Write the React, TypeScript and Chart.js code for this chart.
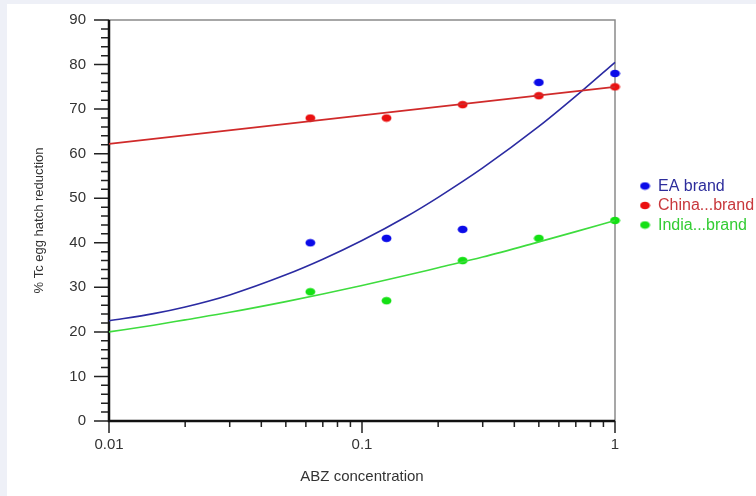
import React, { useEffect, useRef } from "react";
import { Chart, registerables } from "chart.js";

Chart.register(...registerables);

// Measured egg hatch reduction (%) at each ABZ concentration
const concentrations = [0.0625, 0.125, 0.25, 0.5, 1];
const eaBrand = [40, 41, 43, 76, 78];
const chinaBrand = [68, 68, 71, 73, 75];
const indiaBrand = [29, 27, 36, 41, 45];

// Fitted response curves
const fitX = [0.01, 0.015, 0.02, 0.03, 0.05, 0.07, 0.1, 0.15, 0.2, 0.3, 0.5, 0.7, 1];
const eaFit = [22.5, 24.1, 25.6, 28.3, 32.8, 36.3, 40.5, 45.9, 50.2, 56.8, 66.1, 72.9, 80.5];
const indiaFit = [20, 21.5, 22.7, 24.4, 26.8, 28.5, 30.4, 32.7, 34.4, 36.8, 40.2, 42.5, 45];
const chinaFitX = [0.01, 0.1, 1];
const chinaFit = [62.2, 68.6, 75];

const seriesNames = ["EA brand", "China...brand", "India...brand"];
const xTickValues = [0.01, 0.1, 1];
const xTickLabels = ["0.01", "0.1", "1"];
const xMinorTicks = [0.02, 0.03, 0.04, 0.05, 0.06, 0.07, 0.08, 0.09, 0.2, 0.3, 0.4, 0.5, 0.6, 0.7, 0.8, 0.9];

const W = 756;
const H = 496;
const FONT = "'Liberation Sans', Arial, sans-serif";

const dotColors = ["#0b0be8", "#ea1010", "#14e014"];
const lineColors = ["#2b2ba2", "#d02a2a", "#3edc3e"];
const legendText = ["#2d2d9c", "#c8383c", "#33cc33"];

function makeDot(color: string): HTMLCanvasElement {
  const c = document.createElement("canvas");
  c.width = 11;
  c.height = 9;
  const ctx = c.getContext("2d")!;
  ctx.fillStyle = color;
  ctx.beginPath();
  ctx.ellipse(5.5, 4.5, 4.9, 3.8, 0, 0, Math.PI * 2);
  ctx.fill();
  return c;
}

const pts = (xs: number[], ys: number[]) => xs.map((x, i) => ({ x, y: ys[i] }));

export default function App() {
  const ref = useRef<HTMLCanvasElement>(null);

  useEffect(() => {
    const dots = dotColors.map(makeDot);

    const frame = {
      id: "frame",
      beforeDraw(chart: any) {
        const ctx = chart.ctx;
        ctx.save();
        ctx.fillStyle = "#eef0f7";
        ctx.fillRect(0, 0, W, H);
        ctx.fillStyle = "#ffffff";
        ctx.fillRect(7, 4, W - 7, H - 4);
        ctx.restore();
      },
      beforeDatasetsDraw(chart: any) {
        const { ctx, chartArea: a, scales } = chart;
        const xs = scales.x;
        const ys = scales.y;
        ctx.save();
        // top and right frame
        ctx.strokeStyle = "#8a8a8a";
        ctx.lineWidth = 1.5;
        ctx.beginPath();
        ctx.moveTo(a.left, a.top);
        ctx.lineTo(a.right, a.top);
        ctx.lineTo(a.right, a.bottom);
        ctx.stroke();
        // tick marks
        ctx.strokeStyle = "#222";
        ctx.lineWidth = 1.5;
        ctx.beginPath();
        for (let v = 0; v <= 90; v += 2) {
          const y = ys.getPixelForValue(v);
          const len = v % 10 === 0 ? 15 : 8;
          ctx.moveTo(a.left - len, y);
          ctx.lineTo(a.left, y);
        }
        xTickValues.forEach((v) => {
          const x = xs.getPixelForValue(v);
          ctx.moveTo(x, a.bottom);
          ctx.lineTo(x, a.bottom + 12);
        });
        xMinorTicks.forEach((v) => {
          const x = xs.getPixelForValue(v);
          ctx.moveTo(x, a.bottom);
          ctx.lineTo(x, a.bottom + 6);
        });
        ctx.stroke();
        // left and bottom axes
        ctx.strokeStyle = "#111";
        ctx.lineWidth = 2.5;
        ctx.beginPath();
        ctx.moveTo(a.left, a.top);
        ctx.lineTo(a.left, a.bottom);
        ctx.lineTo(a.right, a.bottom);
        ctx.stroke();
        ctx.restore();
      },
      afterDraw(chart: any) {
        const ctx = chart.ctx;
        const rows = [186, 205.5, 225];
        ctx.save();
        ctx.font = `16px ${FONT}`;
        ctx.textBaseline = "middle";
        seriesNames.forEach((name, i) => {
          ctx.drawImage(dots[i], 645 - 5.5, rows[i] - 4.5);
          ctx.fillStyle = legendText[i];
          ctx.fillText(name, 658, rows[i] + 0.5);
        });
        ctx.restore();
      },
    };

    const curve = (xs: number[], ys: number[], color: string) => ({
      type: "line" as const,
      data: pts(xs, ys),
      borderColor: color,
      borderWidth: 1.6,
      pointRadius: 0,
      showLine: true,
      cubicInterpolationMode: "monotone" as const,
      clip: false as any,
    });

    const marks = (ys: number[], i: number) => ({
      type: "scatter" as const,
      data: pts(concentrations, ys),
      pointStyle: dots[i],
      pointRadius: 5,
      showLine: false,
      clip: false as any,
    });

    const chart = new Chart(ref.current!, {
      type: "scatter",
      data: {
        datasets: [
          curve(chinaFitX, chinaFit, lineColors[1]),
          curve(fitX, eaFit, lineColors[0]),
          curve(fitX, indiaFit, lineColors[2]),
          marks(eaBrand, 0),
          marks(chinaBrand, 1),
          marks(indiaBrand, 2),
        ] as any,
      },
      options: {
        animation: false,
        responsive: false,
        events: [],
        layout: { padding: { top: 20, right: 141, left: 0, bottom: 0 } },
        plugins: { legend: { display: false }, tooltip: { enabled: false } },
        scales: {
          x: {
            type: "logarithmic",
            position: "bottom",
            min: 0.01,
            max: 1,
            grid: { display: false, drawTicks: false },
            border: { display: false },
            afterBuildTicks: (s: any) => {
              s.ticks = xTickValues.map((value) => ({ value }));
            },
            afterFit: (s: any) => {
              s.height = 75;
            },
            ticks: {
              autoSkip: false,
              maxRotation: 0,
              padding: 15,
              color: "#333",
              font: { family: FONT, size: 15 },
              callback: (_v: any, i: number) => xTickLabels[i],
            },
            title: {
              display: true,
              text: "ABZ concentration",
              color: "#333",
              font: { family: FONT, size: 15 },
              padding: { top: 0, bottom: 10 },
            },
          },
          y: {
            min: 0,
            max: 90,
            grid: { display: false, drawTicks: false },
            border: { display: false },
            afterFit: (s: any) => {
              s.width = 109;
              s.paddingTop = 0;
              s.paddingBottom = 0;
            },
            ticks: {
              stepSize: 10,
              padding: 23,
              color: "#333",
              font: { family: FONT, size: 15 },
            },
            title: {
              display: true,
              text: "% Tc egg hatch reduction",
              color: "#333",
              font: { family: FONT, size: 13 },
              padding: { top: 32, bottom: 0 },
            },
          },
        },
      },
      plugins: [frame],
    });

    return () => chart.destroy();
  }, []);

  return (
    <div style={{ position: "fixed", left: 0, top: 0, width: W, height: H }}>
      <canvas ref={ref} width={W} height={H} style={{ display: "block", width: W, height: H }} />
    </div>
  );
}
